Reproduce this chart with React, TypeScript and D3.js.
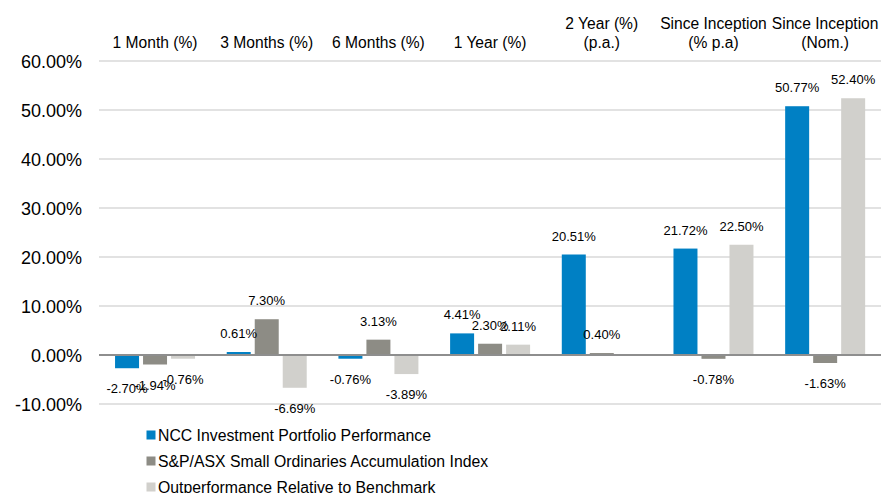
import React from "react";
import * as d3 from "d3";

const categories: string[][] = [
  ["1 Month (%)"],
  ["3 Months (%)"],
  ["6 Months (%)"],
  ["1 Year (%)"],
  ["2 Year (%)", "(p.a.)"],
  ["Since Inception", "(% p.a)"],
  ["Since Inception", "(Nom.)"],
];
const seriesNames = [
  "NCC Investment Portfolio Performance",
  "S&P/ASX Small Ordinaries Accumulation Index",
  "Outperformance Relative to Benchmark",
];
const nccValues: (number | null)[] = [-2.7, 0.61, -0.76, 4.41, 20.51, 21.72, 50.77];
const indexValues: (number | null)[] = [-1.94, 7.3, 3.13, 2.3, 0.4, -0.78, -1.63];
const outperfValues: (number | null)[] = [-0.76, -6.69, -3.89, 2.11, null, 22.5, 52.4];
const yTicks = [-10, 0, 10, 20, 30, 40, 50, 60];
const colors = ["#0080C4", "#8D8C85", "#D1D0CC"];

const W = 881;
const H = 493;
const FONT = "'Liberation Sans', Arial, sans-serif";

export default function App() {
  const seriesValues = [nccValues, indexValues, outperfValues];
  const x0 = d3
    .scaleBand<number>()
    .domain(categories.map((_, i) => i))
    .range([99.2, 881]);
  const x1 = d3
    .scaleBand<number>()
    .domain([0, 1, 2])
    .range([0, x0.bandwidth()])
    .paddingInner(0.143)
    .paddingOuter(0.566);
  const y = d3.scaleLinear().domain([-10, 60]).range([404, 61]);
  const fmt = (v: number) => v.toFixed(2) + "%";

  return (
    <svg
      width={W}
      height={H}
      style={{ position: "absolute", left: 0, top: 0, background: "#fff" }}
      fontFamily={FONT}
    >
      {yTicks.map((t) => (
        <g key={t}>
          {t !== 0 && (
            <line
              x1={99}
              x2={881}
              y1={y(t)}
              y2={y(t)}
              stroke="#D9D9D9"
              strokeWidth={1.6}
            />
          )}
          <text
            x={82}
            y={y(t) + 6.5}
            textAnchor="end"
            fontSize={18}
            fill="#000"
          >
            {t.toFixed(2) + "%"}
          </text>
        </g>
      ))}
      {categories.map((lines, i) => {
        const cx = (x0(i) as number) + x0.bandwidth() / 2;
        return (
          <text key={i} x={cx} textAnchor="middle" fontSize={15.6} fill="#000">
            {lines.map((ln, j) => (
              <tspan key={j} x={cx} y={47.5 - (lines.length - 1 - j) * 18.5}>
                {ln}
              </tspan>
            ))}
          </text>
        );
      })}
      {seriesValues.map((vals, s) =>
        vals.map((v, i) => {
          if (v === null) return null;
          const bx = (x0(i) as number) + (x1(s) as number);
          const top = y(Math.max(0, v));
          const bot = y(Math.min(0, v));
          return (
            <rect
              key={s + "-" + i}
              x={bx}
              y={top}
              width={x1.bandwidth()}
              height={bot - top}
              fill={colors[s]}
            />
          );
        })
      )}
      <line x1={99} x2={881} y1={y(0)} y2={y(0)} stroke="#8E8E8E" strokeWidth={2} />
      {seriesValues.map((vals, s) =>
        vals.map((v, i) => {
          if (v === null) return null;
          const cx = (x0(i) as number) + (x1(s) as number) + x1.bandwidth() / 2;
          const ty = v >= 0 ? y(v) - 14 : y(v) + 25;
          return (
            <text
              key={"l" + s + "-" + i}
              x={cx}
              y={ty}
              textAnchor="middle"
              fontSize={13}
              fill="#000"
            >
              {fmt(v)}
            </text>
          );
        })
      )}
      {seriesNames.map((name, s) => {
        const cy = 435 + s * 26;
        return (
          <g key={name}>
            <rect x={146.5} y={cy - 4.5} width={9} height={9} fill={colors[s]} />
            <text x={158} y={cy + 5.5} fontSize={15.8} fill="#000">
              {name}
            </text>
          </g>
        );
      })}
    </svg>
  );
}
